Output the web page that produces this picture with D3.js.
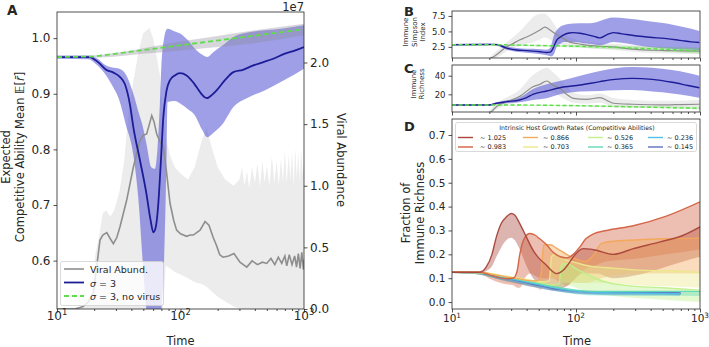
<!DOCTYPE html>
<html><head><meta charset="utf-8">
<script src="https://cdn.jsdelivr.net/npm/d3@7"></script>
<style>body{margin:0;background:#fff} svg{display:block;font-family:"DejaVu Sans",sans-serif}</style>
</head><body><svg id="c" width="709" height="347"></svg>
<script>
// ---------------- DATA ----------------
const xTicks = [10, 100, 1000];
const xMinor = [20,30,40,50,60,70,80,90,200,300,400,500,600,700,800,900];

// Panel A: expected competitive ability mean (left axis), viral abundance (right axis, 1e7 units)
const aMean = [[10,0.966],[15,0.966],[18.5,0.966],[20,0.962],[22,0.955],[25,0.943],[28.6,0.938],[32.4,0.93],[35.5,0.917],[39,0.88],[41.5,0.84],[47,0.78],[53,0.72],[57,0.675],[60.3,0.651],[63,0.66],[66,0.7],[69,0.77],[72.6,0.858],[77,0.905],[82,0.924],[90,0.933],[99,0.937],[112,0.933],[125,0.922],[135,0.912],[150,0.898],[163,0.892],[180,0.898],[196,0.906],[230,0.925],[268,0.939],[320,0.943],[389,0.951],[470,0.957],[564,0.963],[700,0.972],[850,0.978],[1000,0.984]];
const aBand = [[10,0.963,0.969],[18,0.962,0.969],[21,0.952,0.964],[25,0.933,0.951],[28,0.915,0.947],[32,0.888,0.945],[36,0.845,0.935],[41.5,0.79,0.9],[46,0.7,0.865],[49,0.61,0.845],[53,0.51,0.81],[58,0.45,0.768],[62,0.45,0.765],[65,0.47,0.8],[68,0.49,0.88],[70,0.51,0.95],[73.6,0.6,1.0],[76,0.72,1.013],[77.3,0.8,1.016],[78.5,0.885,1.017],[90,0.887,1.012],[100,0.882,1.008],[115,0.872,0.996],[130,0.862,0.982],[150,0.835,0.97],[165,0.822,0.966],[185,0.83,0.975],[220,0.846,0.987],[268,0.876,1.002],[350,0.893,1.01],[480,0.906,1.014],[700,0.925,1.018],[1000,0.945,1.023]];
const aNoVirus = [[10,0.966],[20,0.967],[1000,1.016]];
const aNoVirusBand = [[10,0.965,0.967],[20,0.965,0.969],[50,0.972,0.982],[100,0.978,0.994],[200,0.984,1.004],[400,0.991,1.014],[1000,1.005,1.026]];
const aViral = [[10,0],[14,0],[16.3,0.02],[18,0.06],[19.7,0.13],[21,0.35],[22.3,0.56],[23.5,0.6],[25.3,0.62],[27,0.57],[28.6,0.53],[30.5,0.58],[32.4,0.67],[36.6,0.88],[41.5,1.15],[47,1.37],[50,1.41],[53.2,1.42],[56,1.5],[58.5,1.57],[61,1.52],[64.2,1.42],[68,1.36],[72.6,1.32],[77.3,1.1],[82.2,0.86],[88,0.72],[93,0.64],[100,0.61],[112,0.59],[120,0.6],[127,0.6],[144,0.64],[158,0.71],[170,0.68],[184,0.58],[195,0.52],[208,0.44],[221,0.42],[245,0.43],[271,0.45],[303,0.38],[344,0.34],[380,0.39],[420,0.36],[460,0.38],[499,0.37],[540,0.41],[580,0.36],[620,0.42],[660,0.37],[700,0.43],[725,0.35],[760,0.44],[800,0.36],[840,0.43],[870,0.34],[900,0.45],[930,0.33],[960,0.46],[990,0.32],[1000,0.4]];
const aViralBand = [[10,0,0],[17,0,0.02],[19,0,0.15],[20.5,0,0.45],[22,0,0.6],[23.5,0,0.78],[25,0,0.8],[27,0,0.75],[29,0,0.8],[32,0,0.95],[35,0,1.2],[38,0,1.6],[41.5,0,1.85],[46,0,2.1],[50,0,2.24],[56,0,2.28],[60,0,2.2],[64,0,2.05],[68,0,1.9],[72,0,1.6],[76,0.35,1.4],[82,0.33,1.25],[90,0.3,1.15],[100,0.28,1.1],[115,0.25,1.05],[130,0.22,1.15],[150,0.2,1.38],[163,0.18,1.47],[180,0.14,1.3],[200,0.1,1.15],[230,0.06,1.05],[270,0.02,1.0],[300,0,1.05],[315,0,1.15],[330,0,1.0],[345,0,1.12],[360,0,0.98],[380,0,1.15],[400,0,1.02],[420,0,1.18],[440,0,0.99],[460,0,1.2],[480,0,1.03],[500,0,1.16],[525,0,1.0],[550,0,1.24],[575,0,1.02],[600,0,1.2],[625,0,1.0],[650,0,1.22],[675,0,1.03],[700,0,1.28],[725,0,1.02],[750,0,1.25],[775,0,1.05],[800,0,1.27],[825,0,1.0],[850,0,1.3],[875,0,1.06],[900,0,1.26],[925,0,1.03],[950,0,1.3],[975,0,1.08],[1000,0,1.2]];
const aLeftTicks = [0.6,0.7,0.8,0.9,1.0];
const aRightTicks = [0,0.5,1.0,1.5,2.0];

// Panel B: immune Simpson index
const bMean = [[10,2.85],[18,2.88],[21,2.9],[23,2.87],[27.6,2.3],[33,2.0],[40,1.9],[45,1.82],[52,1.7],[58,1.6],[62,1.65],[64,1.95],[67,2.8],[70,3.6],[75,4.1],[79,4.4],[88,4.75],[95,4.81],[108,4.7],[122,4.49],[140,4.2],[156,3.95],[175,4.4],[200,4.81],[230,4.65],[256,4.49],[300,4.3],[372,4.1],[450,3.95],[539,3.84],[640,3.65],[734,3.47],[850,3.3],[988,3.2]];
const bBand = [[10,2.75,2.95],[20,2.78,3.0],[23,2.7,3.0],[27.6,2.05,2.55],[33,1.7,2.3],[40,1.55,2.2],[45,1.45,2.2],[52,1.3,2.1],[58,1.15,2.05],[62,1.0,2.3],[64,1.0,3.2],[67,1.5,4.6],[70,2.5,5.2],[75,3.0,5.8],[79,3.3,6.0],[95,3.3,6.26],[122,3.04,6.3],[140,2.9,6.4],[156,2.77,6.7],[200,3.3,7.23],[256,3.04,7.07],[372,2.5,6.7],[539,2.23,6.26],[734,2.07,5.7],[988,1.96,5.08]];
const bViral = [[10,0.3],[19,0.3],[20.5,0.7],[22,1.0],[24.5,1.7],[27,2.4],[31,3.04],[35,3.6],[40,4.1],[44,4.5],[48,4.9],[52,5.3],[56,5.7],[60,5.4],[65,4.9],[72,4.3],[79,3.84],[88,3.3],[95,3.15],[108,2.95],[122,2.77],[156,2.6],[200,2.5],[240,2.3],[300,2.1],[400,1.95],[539,1.9],[700,1.85],[988,1.8]];
const bViralBand = [[10,0.3,0.3],[19,0.3,0.4],[21,0.5,1.2],[25,1.2,2.5],[30,2.2,3.8],[35,2.6,5.0],[40,3.0,6.2],[45,3.2,7.3],[50,3.6,7.8],[56,4.0,7.9],[60,3.8,7.4],[65,3.4,6.5],[72,3.0,5.2],[80,2.8,4.5],[95,2.6,3.8],[122,2.3,3.3],[200,2.0,3.0],[400,1.5,2.6],[1000,1.3,2.4]];
const bNoVirus = [[10,2.85],[20,2.85],[50,2.72],[100,2.6],[156,2.5],[250,2.35],[400,2.2],[600,2.05],[1000,1.85]];
const bNoVirusBand = [[10,2.8,2.9],[100,2.4,2.8],[300,2.0,2.6],[1000,1.4,2.3]];
const bTicks = [2.5,5.0,7.5];

// Panel C: immune richness
const cMean = [[10,8.6],[20,8.6],[22.9,10.4],[27.6,12.1],[35,13.9],[40,16.5],[45,20],[58,23.6],[74,27.1],[108,30],[156,33.6],[206,36],[285,37.1],[412,36],[595,32.9],[800,29.5],[988,27.1]];
const cBand = [[10,8.1,9.1],[20,8.1,9.3],[22.9,9.4,11.5],[27.6,10.4,13.5],[35,11.4,16.4],[45,13.9,25.7],[58,15.7,30.7],[74,20,34.3],[108,22.9,40],[156,23.6,45],[206,24.3,47.9],[285,24.6,49.3],[412,22.9,48.6],[595,21,46],[800,18.5,43],[988,16.4,40]];
const cViral = [[10,0],[19,0],[20.5,1],[22.9,6.8],[27.6,12],[35,17.5],[45,28.2],[51,30.7],[58,34.3],[65,30],[74,26.4],[84,20],[95,15.7],[122,14.6],[156,16.4],[180,13],[200,10.4],[285,9.3],[400,8.8],[539,8.6],[700,9.0],[988,9.3]];
const cViralBand = [[10,0,0],[19,0,0.5],[22,3,9],[27,8,16],[35,12,25],[45,20,40.7],[52,22,46],[58,24,48.6],[65,22,44],[74,18,37],[84,14,28],[95,11,22],[122,10,19],[156,11,21],[200,7,16],[285,6,14],[500,6,13],[1000,6,14]];
const cNoVirus = [[10,8.6],[20,8.6],[100,7.8],[300,6.5],[1000,5.0]];
const cNoVirusBand = [[10,8.3,8.9],[100,7.0,8.5],[300,5.5,7.5],[1000,3.8,6.3]];
const cTicks = [20,40];

// Panel D: fraction of immune richness per growth-rate class [t, mean, low, high]
const dLabels = ["∼ 1.025","∼ 0.983","∼ 0.866","∼ 0.703","∼ 0.526","∼ 0.365","∼ 0.236","∼ 0.145"];
const d1025 = [[10,0.125,0.123,0.127],[16.7,0.125,0.12,0.13],[18.9,0.147,0.13,0.165],[21,0.2,0.15,0.27],[22.8,0.273,0.19,0.35],[25,0.33,0.23,0.42],[27.5,0.357,0.26,0.455],[30.1,0.371,0.27,0.465],[32,0.365,0.26,0.46],[35.2,0.329,0.22,0.44],[40,0.27,0.15,0.4],[45.1,0.217,0.1,0.36],[50,0.185,0.08,0.32],[57.8,0.154,0.06,0.27],[64,0.13,0.05,0.23],[69.6,0.119,0.05,0.2],[78.8,0.133,0.06,0.22],[87,0.16,0.07,0.26],[94.9,0.189,0.09,0.3],[114,0.224,0.12,0.33],[130,0.222,0.12,0.34],[146,0.217,0.12,0.34],[200,0.2,0.1,0.35],[290,0.224,0.11,0.38],[476,0.252,0.14,0.42],[733,0.28,0.17,0.47],[1000,0.315,0.19,0.52]];
const d0983 = [[10,0.125,0.123,0.127],[16.7,0.125,0.12,0.13],[19.8,0.115,0.1,0.13],[23,0.105,0.085,0.125],[27.5,0.098,0.075,0.12],[31.2,0.1,0.07,0.13],[33.5,0.13,0.06,0.22],[35.2,0.2,0.06,0.32],[38.6,0.27,0.1,0.4],[42.4,0.287,0.12,0.42],[47,0.28,0.11,0.4],[51,0.265,0.1,0.38],[58,0.24,0.1,0.35],[65,0.21,0.1,0.32],[75,0.19,0.08,0.3],[83.8,0.185,0.07,0.3],[95,0.2,0.09,0.33],[107,0.23,0.12,0.38],[120,0.265,0.14,0.41],[137,0.285,0.15,0.42],[176,0.3,0.17,0.44],[290,0.32,0.18,0.48],[535,0.36,0.2,0.54],[1000,0.42,0.22,0.61]];
const d0866 = [[10,0.125,0.123,0.127],[17,0.124,0.115,0.133],[22,0.115,0.1,0.13],[28,0.105,0.085,0.125],[35,0.097,0.075,0.12],[42,0.09,0.065,0.115],[48,0.088,0.06,0.115],[52,0.11,0.05,0.2],[55,0.24,0.08,0.38],[62,0.24,0.1,0.38],[70,0.225,0.1,0.35],[84,0.2,0.09,0.31],[100,0.18,0.08,0.3],[120,0.17,0.08,0.3],[140,0.2,0.09,0.33],[160,0.245,0.1,0.36],[200,0.255,0.11,0.38],[300,0.26,0.12,0.4],[500,0.265,0.12,0.42],[1000,0.268,0.12,0.45]];
const d0703 = [[10,0.125,0.123,0.127],[17,0.124,0.115,0.133],[25,0.112,0.095,0.13],[35,0.1,0.08,0.12],[45,0.09,0.07,0.11],[55,0.085,0.065,0.105],[61,0.09,0.06,0.13],[63.4,0.19,0.06,0.3],[68,0.2,0.07,0.3],[80,0.18,0.08,0.28],[100,0.165,0.08,0.26],[130,0.15,0.08,0.22],[170,0.145,0.08,0.2],[300,0.135,0.07,0.2],[600,0.13,0.065,0.2],[1000,0.125,0.06,0.2]];
const d0526 = [[10,0.125,0.123,0.127],[17,0.124,0.115,0.133],[25,0.11,0.095,0.125],[35,0.098,0.08,0.115],[50,0.083,0.065,0.1],[65,0.072,0.055,0.09],[73,0.075,0.05,0.1],[76.3,0.16,0.06,0.23],[85,0.16,0.07,0.22],[100,0.14,0.06,0.2],[130,0.11,0.04,0.17],[170,0.085,0.03,0.14],[250,0.07,0.02,0.12],[500,0.06,0.01,0.12],[1000,0.05,0.0,0.11]];
const d0365 = [[10,0.125,0.123,0.127],[17,0.123,0.115,0.132],[25,0.108,0.095,0.122],[35,0.094,0.08,0.11],[50,0.078,0.062,0.095],[70,0.062,0.045,0.08],[100,0.05,0.033,0.068],[150,0.045,0.028,0.062],[250,0.045,0.028,0.062],[500,0.045,0.028,0.065],[1000,0.045,0.025,0.068]];
const d0236 = [[10,0.125,0.123,0.127],[17,0.123,0.115,0.132],[25,0.105,0.092,0.12],[35,0.09,0.077,0.105],[50,0.073,0.06,0.088],[70,0.058,0.045,0.073],[100,0.046,0.035,0.058],[150,0.04,0.03,0.052],[250,0.038,0.028,0.05],[500,0.036,0.026,0.048],[690,0.035,0.025,0.046]];
const d0145 = [[10,0.125,0.123,0.127],[17,0.122,0.115,0.13],[25,0.104,0.092,0.118],[35,0.088,0.076,0.1],[50,0.07,0.058,0.083],[70,0.055,0.045,0.067],[100,0.046,0.036,0.057],[150,0.042,0.033,0.052],[300,0.04,0.032,0.05],[500,0.04,0.032,0.049],[700,0.038,0.03,0.047]];
const dSeries = [d1025, d0983, d0866, d0703, d0526, d0365, d0236, d0145];
const dTicks = [0,0.1,0.2,0.3,0.4,0.5,0.6,0.7];

// ---------------- STYLE ----------------
const FONT = '"DejaVu Sans", sans-serif';
const INK = "#262626";
const BLUE = "#1c1c96", BLUE_FILL = "rgb(95,95,215)";
const GREEN = "#5fdc4a";
const GRAY_LINE = "#8e8e8e", GRAY_FILL = "#ececec";
const dColors = ["#a8443a","#d2603f","#f2a85a","#ece88a","#bff08a","#5fd9b6","#52bfe6","#5f6fbf"];

const svg = d3.select("#c");
const defs = svg.append("defs");
let clipN = 0;
function clip(x0,y0,x1,y1){
  const id = "clip"+(clipN++);
  defs.append("clipPath").attr("id",id).append("rect").attr("x",x0).attr("y",y0).attr("width",x1-x0).attr("height",y1-y0);
  return "url(#"+id+")";
}
function xScale(x0,x1){ return d3.scaleLog().domain([10,1000]).range([x0,x1]); }
function styleAxis(g, fs){
  g.select(".domain").remove();
  g.selectAll("line").attr("stroke",INK).attr("stroke-width",0.8);
  g.selectAll("text").attr("fill",INK).style("font-size",fs+"px").style("font-family",FONT);
}
function xAxis(x, y0, labels, fs, labY){
  styleAxis(svg.append("g").attr("transform",`translate(0,${y0})`)
    .call(d3.axisBottom(x).tickValues(xTicks).tickSize(3.5).tickFormat("")), fs);
  styleAxis(svg.append("g").attr("transform",`translate(0,${y0})`)
    .call(d3.axisBottom(x).tickValues(xMinor).tickSize(2).tickFormat("")), fs);
  if(labels){
    xTicks.forEach(v=>{
      const t = svg.append("text").attr("x",x(v)).attr("y",labY).attr("text-anchor","middle")
        .attr("fill",INK).style("font-size",fs+"px").style("font-family",FONT);
      t.append("tspan").text("10");
      t.append("tspan").style("font-size",(fs*0.7)+"px").attr("dy",-fs*0.42).text(String(Math.round(Math.log10(v))));
    });
  }
}
function yAxisLeft(y, x0, ticks, fmt, fs){
  styleAxis(svg.append("g").attr("transform",`translate(${x0},0)`)
    .call(d3.axisLeft(y).tickValues(ticks).tickSize(3.5).tickPadding(3).tickFormat(fmt)), fs);
}
function frame(x0,y0,x1,y1){
  svg.append("rect").attr("x",x0).attr("y",y0).attr("width",x1-x0).attr("height",y1-y0)
    .attr("fill","none").attr("stroke",INK).attr("stroke-width",0.8);
}
function band(g, data, x, y, fill, op, curve){
  g.append("path").datum(data).attr("fill",fill).attr("fill-opacity",op).attr("stroke","none")
    .attr("d", d3.area().x(d=>x(d[0])).y0(d=>y(d[1])).y1(d=>y(d[2])).curve(curve||d3.curveMonotoneX));
}
function line(g, data, x, y, color, w, dash, curve, op){
  g.append("path").datum(data).attr("fill","none").attr("stroke",color).attr("stroke-width",w)
    .attr("stroke-dasharray",dash||null).attr("stroke-opacity",op||1)
    .attr("d", d3.line().x(d=>x(d[0])).y(d=>y(d[1])).curve(curve||d3.curveMonotoneX));
}
function text(x,y,str,fs,opts){
  opts = opts||{};
  const t = svg.append("text").attr("x",x).attr("y",y).attr("fill",INK)
    .style("font-size",fs+"px").style("font-family",FONT)
    .attr("text-anchor",opts.anchor||"start");
  if(opts.rot!=null) t.attr("transform",`rotate(${opts.rot},${x},${y})`);
  if(opts.bold) t.style("font-weight","bold");
  if(opts.base) t.attr("dominant-baseline",opts.base);
  t.text(str);
  return t;
}

// ---------------- PANEL A ----------------
{
  const L=57,R=304,T=12,B=309;
  const x = xScale(L,R);
  const y = d3.scaleLinear().domain([0.513,1.047]).range([B,T]);
  const y2 = d3.scaleLinear().domain([0,2.41]).range([B,T]);
  const g = svg.append("g").attr("clip-path",clip(L,T,R,B));
  band(g, aViralBand, x, y2, GRAY_FILL, 1, d3.curveLinear);
  band(g, aBand, x, y, BLUE_FILL, 0.6);
  band(g, aNoVirusBand, x, y, "#8a8a9a", 0.35);
  line(g, aViral, x, y2, GRAY_LINE, 1.6, null, d3.curveLinear);
  line(g, aMean, x, y, BLUE, 1.8);
  line(g, aNoVirus, x, y, GREEN, 1.8, "5,3", d3.curveLinear);
  frame(L,T,R,B);
  xAxis(x, B, true, 12, 320);
  yAxisLeft(y, L, aLeftTicks, d3.format(".1f"), 12);
  styleAxis(svg.append("g").attr("transform",`translate(${R},0)`)
    .call(d3.axisRight(y2).tickValues(aRightTicks).tickSize(3.5).tickPadding(2.5).tickFormat(d3.format(".1f"))), 12);
  text(R, 10.5, "1e7", 11.5, {anchor:"end"});
  text(180.5, 345, "Time", 11.5, {anchor:"middle"});
  text(5.5, 157, "Expected", 11.5, {anchor:"middle", rot:-90, base:"central"});
  const yl = text(19.5, 157, "", 11.5, {anchor:"middle", rot:-90, base:"central"});
  yl.append("tspan").text("Competitive Ability Mean 𝔼[");
  yl.append("tspan").style("font-style","italic").text("r̄");
  yl.append("tspan").text("]");
  text(341, 160, "Viral Abundance", 11.5, {anchor:"middle", rot:90, base:"central"});
  text(7, 15, "A", 13.5, {bold:true});
  // legend
  svg.append("rect").attr("x",60.5).attr("y",261.5).attr("width",103).attr("height",44).attr("rx",2)
    .attr("fill","#fff").attr("fill-opacity",0.8).attr("stroke","#cfcfcf").attr("stroke-width",0.8);
  const lg = [["Viral Abund.",GRAY_LINE,1.6,null],["σ =  3",BLUE,1.8,null],["σ =  3, no virus",GREEN,1.8,"5,3"]];
  lg.forEach((e,i)=>{
    const yy = 269 + i*13.5;
    svg.append("line").attr("x1",64).attr("x2",84).attr("y1",yy).attr("y2",yy)
      .attr("stroke",e[1]).attr("stroke-width",e[2]).attr("stroke-dasharray",e[3]);
    const t = text(90, yy, "", 9.5, {base:"central"});
    if(i===0) t.text(e[0]);
    else { t.append("tspan").style("font-style","italic").text("σ");
           t.append("tspan").text(i===1?" =  3":" =  3, no virus"); }
  });
}

// ---------------- PANEL B ----------------
{
  const L=452,R=700,T=11,B=58;
  const x = xScale(L,R);
  const y = d3.scaleLinear().domain([0.7,8.3]).range([B,T]);
  const g = svg.append("g").attr("clip-path",clip(L,T,R,B));
  band(g, bViralBand, x, y, GRAY_FILL, 1);
  band(g, bBand, x, y, BLUE_FILL, 0.6);
  band(g, bNoVirusBand, x, y, GREEN, 0.3);
  line(g, bViral, x, y, GRAY_LINE, 1.2);
  line(g, bMean, x, y, BLUE, 1.4);
  line(g, bNoVirus, x, y, GREEN, 1.4, "4,2.5");
  frame(L,T,R,B);
  xAxis(x, B, false, 8.5);
  yAxisLeft(y, L, bTicks, d3.format(".1f"), 8.5);
  text(406, 32, "Immune", 7, {anchor:"middle", rot:-90, base:"central"});
  text(414.5, 32, "Simpson", 7, {anchor:"middle", rot:-90, base:"central"});
  text(423, 32, "Index", 7, {anchor:"middle", rot:-90, base:"central"});
  text(404, 16, "B", 13, {bold:true});
}

// ---------------- PANEL C ----------------
{
  const L=452,R=700,T=65,B=112;
  const x = xScale(L,R);
  const y = d3.scaleLinear().domain([1,51.5]).range([B,T]);
  const g = svg.append("g").attr("clip-path",clip(L,T,R,B));
  band(g, cViralBand, x, y, GRAY_FILL, 1);
  band(g, cBand, x, y, BLUE_FILL, 0.6);
  band(g, cNoVirusBand, x, y, GREEN, 0.3);
  line(g, cViral, x, y, GRAY_LINE, 1.2);
  line(g, cMean, x, y, BLUE, 1.4);
  line(g, cNoVirus, x, y, GREEN, 1.4, "4,2.5");
  frame(L,T,R,B);
  xAxis(x, B, false, 8.5);
  yAxisLeft(y, L, cTicks, d3.format("d"), 8.5);
  text(413.5, 84, "Immune", 7, {anchor:"middle", rot:-90, base:"central"});
  text(422, 84, "Richness", 7, {anchor:"middle", rot:-90, base:"central"});
  text(404, 73, "C", 13, {bold:true});
}

// ---------------- PANEL D ----------------
{
  const L=452,R=700,T=119,B=309;
  const x = xScale(L,R);
  const y = d3.scaleLinear().domain([-0.029,0.767]).range([B,T]);
  const g = svg.append("g").attr("clip-path",clip(L,T,R,B));
  dSeries.forEach((s,i)=>band(g, s, x, y, dColors[i], 0.4));
  dSeries.slice().reverse().forEach((s,j)=>{
    const i = dSeries.length-1-j;
    line(g, s, x, y, dColors[i], 1.4, null, null, 0.95);
  });
  frame(L,T,R,B);
  xAxis(x, B, true, 10.5, 322);
  yAxisLeft(y, L, dTicks, d3.format(".1f"), 10.5);
  text(577, 345, "Time", 11.5, {anchor:"middle"});
  text(406, 213, "Fraction of", 11.5, {anchor:"middle", rot:-90, base:"central"});
  text(420, 213, "Immune Richness", 11.5, {anchor:"middle", rot:-90, base:"central"});
  text(404, 131, "D", 13, {bold:true});
  // legend
  svg.append("rect").attr("x",455.5).attr("y",122.5).attr("width",241).attr("height",29).attr("rx",2)
    .attr("fill","#fff").attr("fill-opacity",0.8).attr("stroke","#cfcfcf").attr("stroke-width",0.8);
  text(577, 127, "Intrinsic Host Growth Rates (Competitive Abilities)", 6.2, {anchor:"middle", base:"central"});
  const colLine = [458,523,588,648], colText = [480,543,607,667];
  dLabels.forEach((lab,i)=>{
    const c = Math.floor(i/2), r = i%2;
    const yy = 137.5 + r*9.5;
    svg.append("line").attr("x1",colLine[c]).attr("x2",colLine[c]+15).attr("y1",yy).attr("y2",yy)
      .attr("stroke",dColors[i]).attr("stroke-width",1.4);
    text(colText[c], yy, lab, 6.5, {base:"central"});
  });
}
</script></body></html>
